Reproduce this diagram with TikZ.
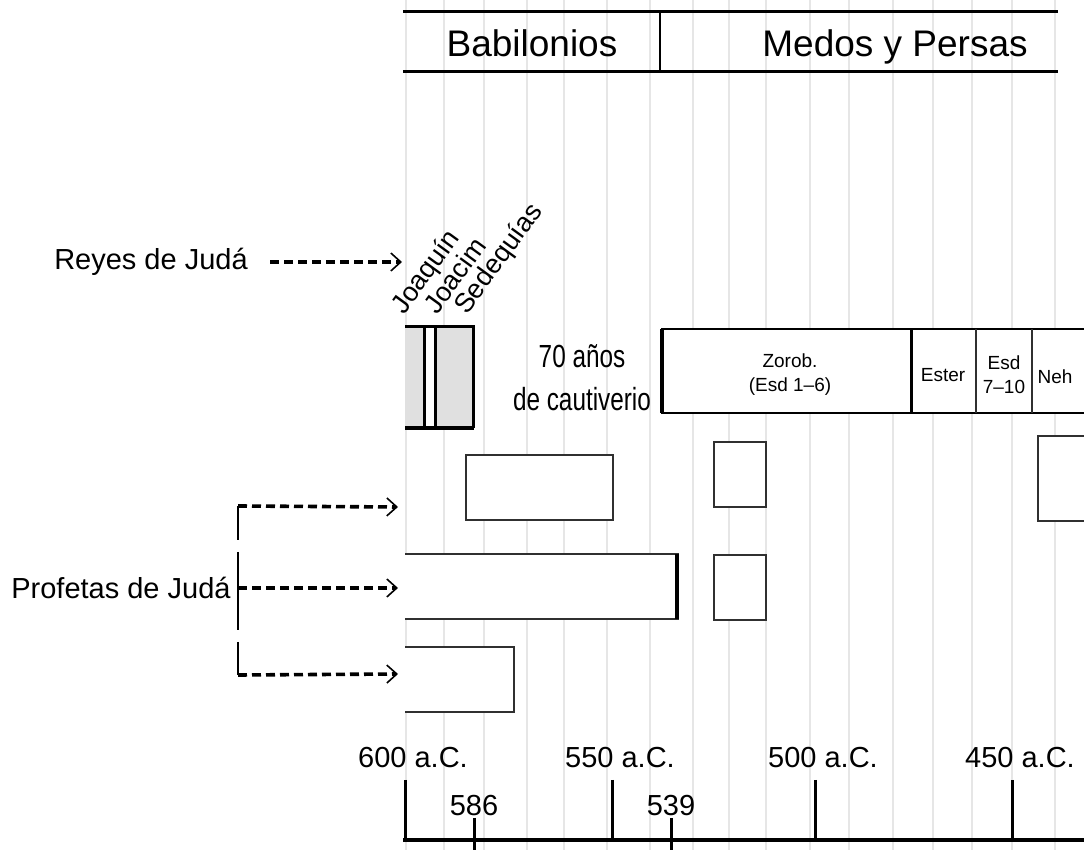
\documentclass[tikz,border=0pt]{standalone}
\usepackage{fontspec}
\setmainfont{Liberation Sans}
\newfontfamily\narrowfont{Liberation Sans}[FakeStretch=0.76]
\usepackage{tikz}
\usetikzlibrary{arrows.meta}
\usepackage{xcolor}
\definecolor{gridgray}{HTML}{E6E6E6}
\definecolor{kingfill}{HTML}{E0E0E0}
\definecolor{boxline}{HTML}{303030}

\begin{document}
\begin{tikzpicture}[x=0.5pt, y=-0.5pt,
  txt/.style={inner sep=0pt, font=\fontsize{14.5}{17}\selectfont},
  era/.style={inner sep=0pt, anchor=base, font=\fontsize{18.5}{22}\selectfont},
  captiv/.style={inner sep=0pt, align=center, font=\narrowfont\fontsize{16}{21.5}\selectfont},
  book/.style={inner sep=0pt, align=center, font=\fontsize{9.5}{12}\selectfont},
  king/.style={inner sep=0pt, rotate=54, anchor=base west, font=\fontsize{13.5}{16}\selectfont},
  gridline/.style={gridgray, line width=1.2pt},
  bar/.style={draw=boxline, line width=1pt, fill=white},
  dasharrow/.style={line width=1.8pt, dash pattern=on 4.5pt off 2.5pt,
    -{Straight Barb[length=5pt, width=9pt, line width=0.8pt]}},
  tick/.style={line width=1.5pt}]
  \useasboundingbox (0,0) rectangle (1084,850);

  % background grid, one line every ten years
  \foreach \gx in {406,444,484,527,564,607,650,693,729,766,810,849,893,933,972,1012,1055}
    \draw[gridline] (\gx,0) -- (\gx,850);

  % empires
  \draw[line width=1.5pt] (403,12) -- (1058,12);
  \draw[line width=1.5pt] (403,72) -- (1058,72);
  \draw[line width=1pt] (660,12) -- (660,72);
  \node[era] (babil) at (532,57) {Babilonios};
  \node[era] (medos) at (895,57) {Medos y Persas};

  % kings
  \node[txt] (reyes) at (151,262) {Reyes de Judá};
  \coordinate (reyesend) at (402,262);
  \draw[dasharrow, shorten <=11pt] (reyes) -- (reyesend);
  \fill[kingfill] (405,327) rectangle (473,428);
  \fill[white] (424,327) rectangle (435,428);
  \draw[line width=1.5pt] (405,327) -- (473,327) -- (473,428);
  \draw[line width=2pt] (405,428) -- (474,428);
  \draw[line width=1.5pt] (424,327) -- (424,428);
  \draw[line width=1.5pt] (435,327) -- (435,428);
  \node[king] (joaquin) at (404,316) {Joaquín};
  \node[king] (joacim) at (437,316) {Joacim};
  \node[king] (sedequias) at (467,316) {Sedequías};

  \node[captiv] (cautiv) at (582,378) {70 años\\de cautiverio};

  % return
  \draw[fill=white, line width=1.2pt] (662,329) rectangle (1090,413);
  \draw[line width=2pt] (662,329) -- (662,413);
  \draw[line width=1.5pt] (911,329) -- (911,413);
  \draw[boxline, line width=0.6pt] (976,329) -- (976,413);
  \draw[boxline, line width=0.6pt] (1032,329) -- (1032,413);
  \node[book] (zorob) at (790,375) {Zorob.\\(Esd 1–6)};
  \node[book] (ester) at (943,375) {Ester};
  \node[book] (esd) at (1004,375) {Esd\\7–10};
  \node[book] (neh) at (1055,377) {Neh};

  % prophets
  \draw[bar] (466,455) rectangle (613,520);
  \draw[bar] (714,442) rectangle (766,507);
  \draw[bar] (1038,436) rectangle (1090,521);
  \fill[white] (405,554) rectangle (678,619);
  \draw[boxline, line width=1pt] (405,554) -- (678,554) -- (678,619) -- (405,619);
  \draw[line width=2.2pt] (677,554) -- (677,619);
  \draw[bar] (714,555) rectangle (766,620);
  \fill[white] (405,647) rectangle (514,712);
  \draw[boxline, line width=1pt] (405,647) -- (514,647) -- (514,712) -- (405,712);

  \node[txt, anchor=east] (profetas) at (231,588) {Profetas de Judá};
  \coordinate (b1) at (238,506);
  \coordinate (b2) at (238,588);
  \coordinate (b3) at (238,675);
  \coordinate (p1) at (398,507);
  \coordinate (p2) at (398,588);
  \coordinate (p3) at (398,674);
  \draw[line width=1pt, dash pattern=on 17pt off 6pt on 39pt off 6pt on 20pt] (b1) -- (b3);
  \draw[dasharrow] (b1) -- (p1);
  \draw[dasharrow] (b2) -- (p2);
  \draw[dasharrow] (b3) -- (p3);

  % time axis
  \draw[line width=2pt] (403,840) -- (1084,840);
  \foreach \tx/\yr in {405/600, 612/550, 815/500, 1012/450} {
    \draw[tick] (\tx,780) -- (\tx,840);
    \node[txt] (y\yr) at ({\tx+8},758) {\yr\ a.C.};
  }
  \foreach \tx/\yr in {474/586, 671/539} {
    \draw[tick] (\tx,818) -- (\tx,850);
    \node[txt] (y\yr) at (\tx,806) {\yr};
  }
\end{tikzpicture}
\end{document}
